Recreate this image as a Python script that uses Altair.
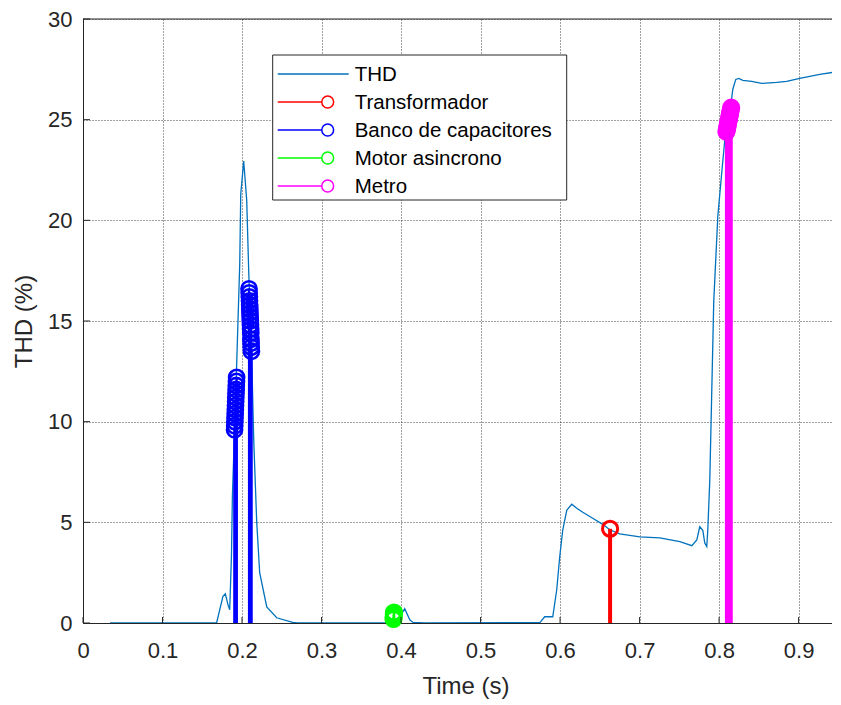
import altair as alt
import pandas as pd

# ---------------- data ----------------
thd_t = [0.034, 0.168, 0.176, 0.179, 0.1824, 0.1845, 0.1867, 0.1879, 0.193, 0.1971, 0.1984,
         0.2021, 0.2059, 0.2084, 0.2122, 0.2147, 0.2185, 0.2222, 0.2311, 0.2436, 0.2637, 0.27,
         0.385, 0.3984, 0.4046, 0.411, 0.415, 0.43,
         0.5745, 0.5807, 0.5908, 0.5958, 0.5996, 0.6033, 0.6084, 0.6147, 0.621, 0.6285, 0.641,
         0.6537, 0.6625, 0.675, 0.7003, 0.7254, 0.7506, 0.7657, 0.772, 0.7757, 0.7795, 0.782,
         0.7845, 0.7858, 0.7883, 0.7905, 0.7933, 0.7984, 0.8034, 0.8072, 0.8135, 0.8172, 0.821,
         0.8248, 0.8298, 0.841, 0.8537, 0.8725, 0.885, 0.9015, 0.9266, 0.9518]
thd_v = [0, 0, 1.32, 1.45, 0.9, 0.66, 3.3, 6.3, 12.5, 17.8, 21.3,
         22.95, 21.0, 17.5, 13.2, 9.1, 5.0, 2.5, 0.8, 0.26, 0.03, 0,
         0, 0.3, 0.71, 0.16, 0.03, 0,
         0.02, 0.31, 0.31, 1.65, 3.3, 4.6, 5.6, 5.9, 5.7, 5.5, 5.2,
         4.9, 4.63, 4.43, 4.28, 4.23, 4.04, 3.84, 4.13, 4.78, 4.6, 3.97,
         3.8, 4.63, 7.1, 11.0, 16.0, 20.2, 22.4, 24.0, 25.3, 26.5, 27.0,
         27.05, 26.95, 26.9, 26.8, 26.85, 26.9, 27.05, 27.25, 27.4]

trafo_t = [0.6629]
trafo_v = [4.68]

banco_t = [0.1906, 0.1908, 0.1910, 0.1912, 0.1914, 0.1916, 0.1918, 0.1920, 0.1922, 0.1924,
           0.1926, 0.1928, 0.1930, 0.1932,
           0.2088, 0.2090, 0.2092, 0.2094, 0.2096, 0.2098, 0.2100, 0.2102, 0.2104, 0.2106,
           0.2108, 0.2110, 0.2112, 0.2114, 0.2116, 0.2118]
banco_v = [9.6, 9.8, 10.0, 10.2, 10.4, 10.6, 10.8, 11.0, 11.2, 11.4,
           11.6, 11.8, 12.0, 12.2,
           16.6, 16.4, 16.2, 16.0, 15.8, 15.6, 15.4, 15.2, 15.0, 14.8,
           14.6, 14.4, 14.1, 13.9, 13.7, 13.5]

motor_t = [0.3905, 0.3907, 0.3909, 0.3911]
motor_v = [0.2, 0.3, 0.42, 0.52]

metro_t = [0.8092, 0.8097, 0.8102, 0.8107, 0.8112, 0.8117, 0.8122, 0.8127, 0.8132, 0.8137,
           0.8142, 0.8147, 0.8152]
metro_v = [24.4, 24.5, 24.6, 24.7, 24.8, 24.9, 25.0, 25.1, 25.2, 25.3, 25.4, 25.5, 25.6]

x_ticks = [0, 0.1, 0.2, 0.3, 0.4, 0.5, 0.6, 0.7, 0.8, 0.9]
y_ticks = [0, 5, 10, 15, 20, 25, 30]

series_names = ["THD", "Transformador", "Banco de capacitores", "Motor asincrono", "Metro"]
series_colors = ["#0072BD", "#FF0000", "#0000FF", "#00FF00", "#FF00FF"]

# ---------------- layout / style ----------------
W, H = 749, 604
X_MAX = 0.942
FONT = "Liberation Sans"
INK = "#262626"

xs = alt.Scale(domain=[0, X_MAX], nice=False, zero=False)
ys = alt.Scale(domain=[0, 30], nice=False, zero=False)

x_axis = alt.Axis(values=x_ticks, format=".1~f", grid=True, gridDash=[1, 2], gridColor="#000000",
                  gridOpacity=0.75, gridWidth=1, ticks=False, tickSize=0, domain=True,
                  domainColor=INK, domainWidth=1, labelFont=FONT, labelFontSize=22,
                  labelColor=INK, labelPadding=17, labelFlush=False, labelOverlap=False,
                  title="Time (s)", titleFont=FONT, titleFontSize=24, titleFontWeight="normal",
                  titleColor=INK, titleX=382.5, titleY=70, titleAlign="center",
                  titleBaseline="alphabetic")
y_axis = alt.Axis(values=y_ticks, format="d", grid=True, gridDash=[1, 2], gridColor="#000000",
                  gridOpacity=0.75, gridWidth=1, ticks=False, tickSize=0, domain=True,
                  domainColor=INK, domainWidth=1, labelFont=FONT, labelFontSize=22,
                  labelColor=INK, labelPadding=11, labelFlush=False, labelOverlap=False,
                  title="THD (%)", titleFont=FONT, titleFontSize=24, titleFontWeight="normal",
                  titleColor=INK, titleX=-59, titleY=H / 2, titleAngle=270, titleAlign="center",
                  titleBaseline="middle")

thd_df = pd.DataFrame({"t": thd_t, "v": thd_v})

layers = []

# THD curve (with axes)
layers.append(
    alt.Chart(thd_df).mark_line(color=series_colors[0], strokeWidth=1.3, clip=True).encode(
        x=alt.X("t:Q", scale=xs, axis=x_axis),
        y=alt.Y("v:Q", scale=ys, axis=y_axis),
    )
)

# stems
stem_sets = [
    (trafo_t, trafo_v, series_colors[1], 4.0, 3.0),
    (banco_t, banco_v, series_colors[2], 2.2, 2.6),
    (motor_t, motor_v, series_colors[3], 2.5, 3.0),
    (metro_t, metro_v, series_colors[4], 3.0, 3.0),
]
for ts, vs, col, sw, pw in stem_sets:
    df = pd.DataFrame({"t": ts, "v": vs})
    layers.append(
        alt.Chart(df).mark_rule(color=col, strokeWidth=sw).encode(
            x="t:Q", y="v:Q", y2=alt.datum(0)
        )
    )
    layers.append(
        alt.Chart(df).mark_point(shape="circle", filled=False, color=col, size=230,
                                 strokeWidth=pw, opacity=1).encode(x="t:Q", y="v:Q")
    )

# inward ticks
xt_df = pd.DataFrame({"t": x_ticks})
yt_df = pd.DataFrame({"v": y_ticks})
layers.append(
    alt.Chart(xt_df).mark_rule(color=INK, strokeWidth=1).encode(
        x="t:Q", y=alt.value(H), y2=alt.value(H - 6)
    )
)
layers.append(
    alt.Chart(yt_df).mark_rule(color=INK, strokeWidth=1).encode(
        y="v:Q", x=alt.value(0), x2=alt.value(7)
    )
)

one = pd.DataFrame({"k": [0]})
# top border
layers.append(
    alt.Chart(one).mark_rule(color=INK, strokeWidth=1).encode(
        x=alt.value(0), x2=alt.value(W), y=alt.value(0)
    )
)

# legend box
LX0, LX1, LY0, LY1 = 189.7, 483.7, 36, 181
layers.append(
    alt.Chart(one).mark_rect(fill="white", stroke=INK, strokeWidth=1).encode(
        x=alt.value(LX0), x2=alt.value(LX1), y=alt.value(LY0), y2=alt.value(LY1)
    )
)
for i, (name, col) in enumerate(zip(series_names, series_colors)):
    ry = 55 + 28 * i
    layers.append(
        alt.Chart(one).mark_rule(color=col, strokeWidth=1.3).encode(
            x=alt.value(194.7), x2=alt.value(265.7 if i == 0 else 239), y=alt.value(ry)
        )
    )
    if i > 0:
        layers.append(
            alt.Chart(one).mark_point(shape="circle", filled=False, color=col, size=140,
                                      strokeWidth=1.5, opacity=1).encode(
                x=alt.value(244.7), y=alt.value(ry)
            )
        )
    layers.append(
        alt.Chart(one).mark_text(text=name, font=FONT, fontSize=20.5, color="#000000",
                                 align="left", baseline="middle").encode(
            x=alt.value(271.7), y=alt.value(ry + 1)
        )
    )

chart = alt.layer(*layers).properties(
    width=W, height=H,
    padding={"left": 75, "top": 11, "right": 0, "bottom": 80},
    autosize=alt.AutoSizeParams(type="none"),
    background="white",
).configure_view(stroke=None)

chart.save("out.html", embed_options={"renderer": "svg", "actions": False})
